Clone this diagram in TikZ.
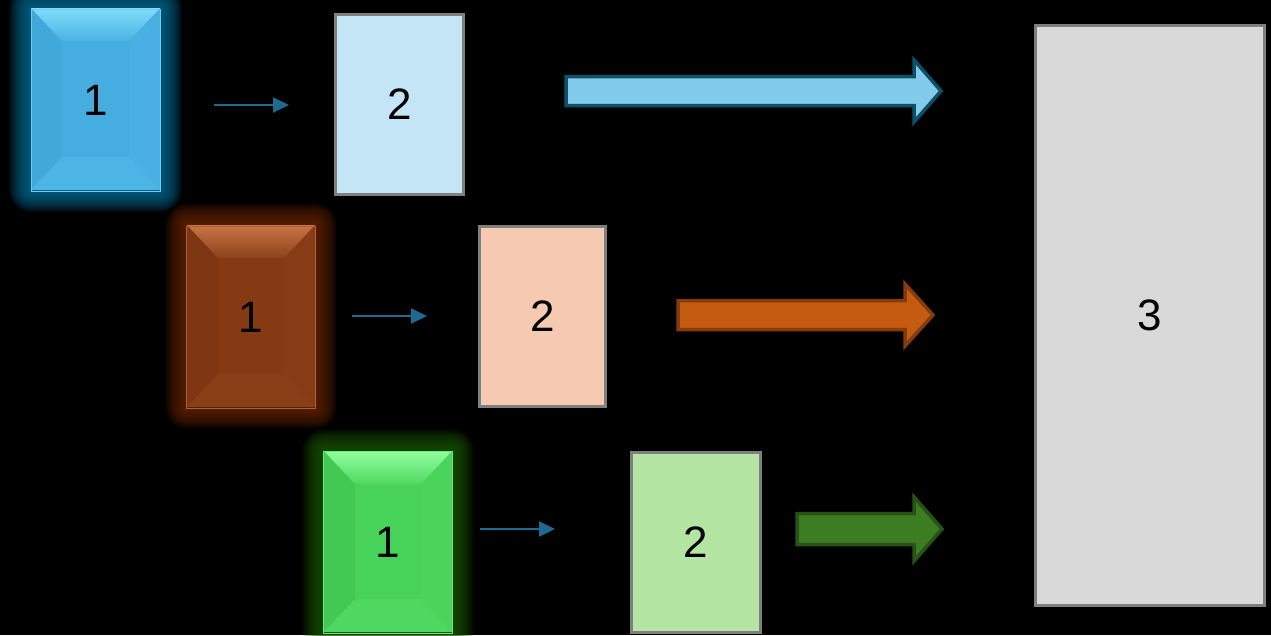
\documentclass[tikz,border=0pt]{standalone}
\usepackage{fontspec}
\setmainfont{Liberation Sans}
\usetikzlibrary{arrows.meta}
% blue set
\definecolor{bl-base}{HTML}{45ADE0}
\definecolor{bl-top}{HTML}{80DEFA}
\definecolor{bl-topin}{HTML}{4AB2E3}
\definecolor{bl-side}{HTML}{41A8DA}
\definecolor{bl-rside}{HTML}{48B0E2}
\definecolor{bl-bot}{HTML}{4CB5E6}
\definecolor{bl-edge}{HTML}{6FCCF0}
\definecolor{bl-glow}{HTML}{0E6E96}
% orange set
\definecolor{or-base}{HTML}{853A14}
\definecolor{or-top}{HTML}{C97548}
\definecolor{or-topin}{HTML}{8C4218}
\definecolor{or-side}{HTML}{7E3712}
\definecolor{or-rside}{HTML}{873C15}
\definecolor{or-bot}{HTML}{8A3F17}
\definecolor{or-edge}{HTML}{B0602F}
\definecolor{or-glow}{HTML}{6A2800}
% green set
\definecolor{gr-base}{HTML}{47D25A}
\definecolor{gr-top}{HTML}{8FFF9D}
\definecolor{gr-topin}{HTML}{50D862}
\definecolor{gr-side}{HTML}{42C954}
\definecolor{gr-rside}{HTML}{4AD45C}
\definecolor{gr-bot}{HTML}{4ED761}
\definecolor{gr-edge}{HTML}{6EE77E}
\definecolor{gr-glow}{HTML}{1E5A0C}
% plain boxes and arrows
\definecolor{boxline}{HTML}{7F7F7F}
\definecolor{bl-light}{HTML}{C3E5F5}
\definecolor{or-light}{HTML}{F6C9B1}
\definecolor{gr-light}{HTML}{B4E5A2}
\definecolor{greyfill}{HTML}{D9D9D9}
\definecolor{smallarrow}{HTML}{1F6A93}
\definecolor{bigbl-fill}{HTML}{82CBEB}
\definecolor{bigbl-line}{HTML}{0E5068}
\definecolor{bigor-fill}{HTML}{C55A11}
\definecolor{bigor-line}{HTML}{843C0C}
\definecolor{biggr-fill}{HTML}{3C7D22}
\definecolor{biggr-line}{HTML}{275317}

\newcommand\mybevelbox[5]{%
  \foreach \r in {1,...,22}{\fill[#5-glow,opacity=0.075,rounded corners=\r pt] (#1-\r,#2-\r) rectangle (#3+\r,#4+\r);}
  \fill[#5-base] (#1,#2) rectangle (#3,#4);
  \fill[#5-side] (#1,#2) -- (#1+31,#2+33) -- (#1+31,#4-33) -- (#1,#4) -- cycle;
  \fill[#5-rside] (#3,#2) -- (#3-31,#2+33) -- (#3-31,#4-33) -- (#3,#4) -- cycle;
  \fill[#5-bot] (#1,#4) -- (#1+31,#4-33) -- (#3-31,#4-33) -- (#3,#4) -- cycle;
  \shade[top color=#5-top,bottom color=#5-topin] (#1,#2) -- (#3,#2) -- (#3-31,#2+33) -- (#1+31,#2+33) -- cycle;
}

\begin{document}
\begin{tikzpicture}[x=1pt,y=-1pt,
  lbl/.style={font=\fontsize{44}{44}\selectfont,text=black},
  glowbox/.style={draw=#1-edge,line width=1pt,minimum width=129pt,minimum height=182pt,inner sep=0pt,lbl},
  plainbox/.style={draw=boxline,line width=3pt,fill=#1,inner sep=0pt,lbl},
  thinarrow/.style={draw=smallarrow,line width=2pt,-{Triangle[length=16pt,width=15pt]}},
  bigarrow/.style={line width=3.5pt,line join=miter}]
\fill[black] (0,0) rectangle (1271,635);
\useasboundingbox (0,0) rectangle (1271,635);

% row 1 (blue)
\mybevelbox{31}{8}{160}{190}{bl}
\node[glowbox=bl] (b1) at (95.5,100) {1};
\node[plainbox=bl-light,minimum width=128pt,minimum height=180pt] (b2) at (399.5,104) {2};
\coordinate (s1a) at (214,105);
\coordinate (s1b) at (289,105);
\draw[thinarrow] (s1a) -- (s1b);
\draw[bigarrow,fill=bigbl-fill,draw=bigbl-line] (566,76.5) -- (914,76.5) -- (914,60) -- (941,91) -- (914,122) -- (914,105.5) -- (566,105.5) -- cycle;

% row 2 (orange)
\mybevelbox{187}{225}{315}{407}{or}
\node[glowbox=or] (o1) at (251,317) {1};
\node[plainbox=or-light,minimum width=126pt,minimum height=180pt] (o2) at (542.5,316.5) {2};
\coordinate (s2a) at (352,316);
\coordinate (s2b) at (427,316);
\draw[thinarrow] (s2a) -- (s2b);
\draw[bigarrow,fill=bigor-fill,draw=bigor-line] (678,300.5) -- (905,300.5) -- (905,284) -- (933,315) -- (905,346) -- (905,329.5) -- (678,329.5) -- cycle;

% row 3 (green)
\mybevelbox{324}{451}{452}{632}{gr}
\node[glowbox=gr] (g1) at (388,542.5) {1};
\node[plainbox=gr-light,minimum width=129pt,minimum height=180pt] (g2) at (696,542.5) {2};
\coordinate (s3a) at (480,529);
\coordinate (s3b) at (555,529);
\draw[thinarrow] (s3a) -- (s3b);
\draw[bigarrow,fill=biggr-fill,draw=biggr-line] (797,513.5) -- (914,513.5) -- (914,497) -- (942,529) -- (914,561) -- (914,544.5) -- (797,544.5) -- cycle;

% box 3
\node[plainbox=greyfill,minimum width=229pt,minimum height=580pt] (b3) at (1150,315) {3};
\end{tikzpicture}
\end{document}
